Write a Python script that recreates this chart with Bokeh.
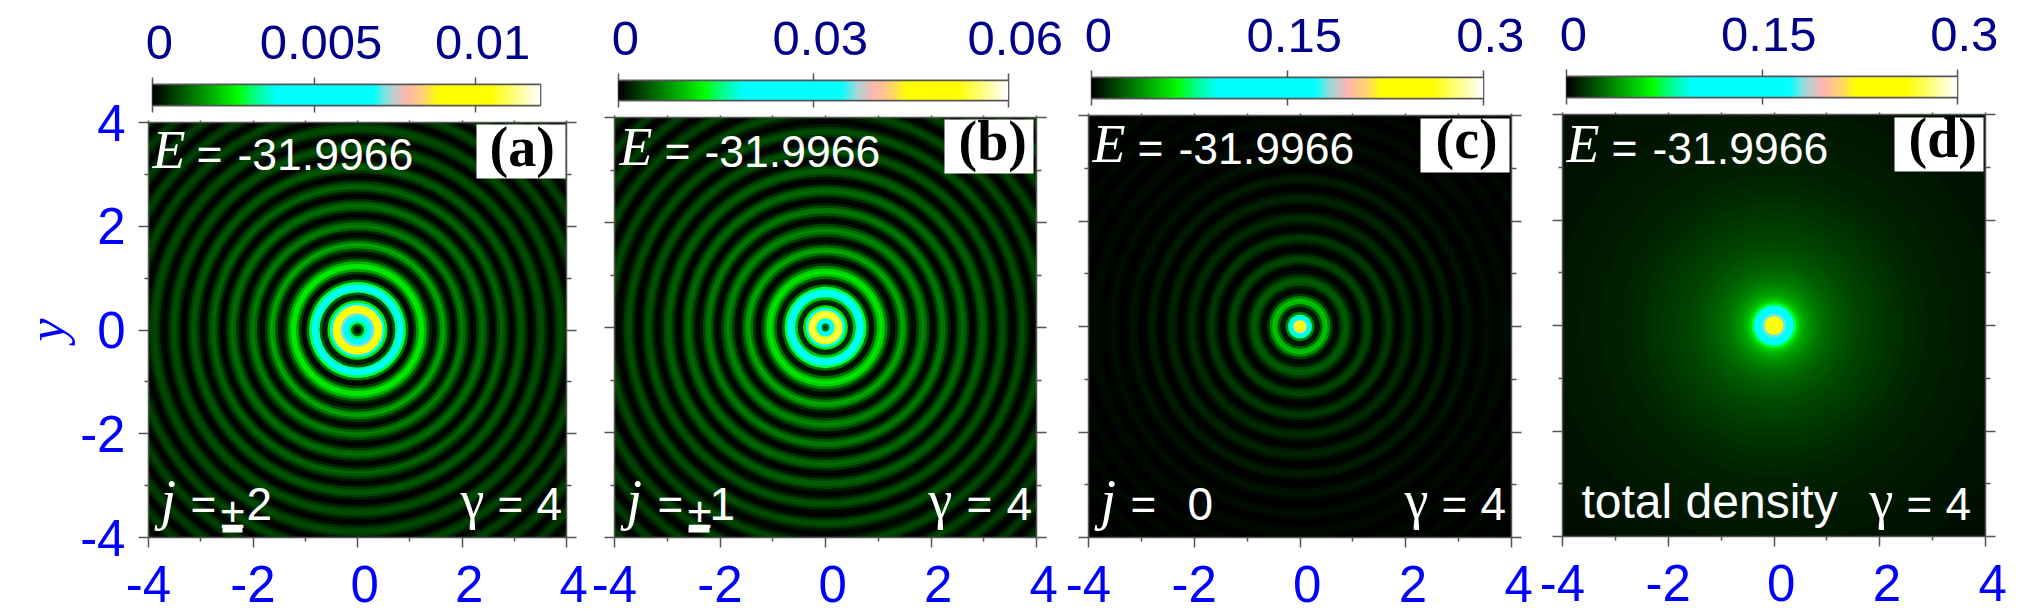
from bokeh.embed import file_html
from bokeh.layouts import column, row
from bokeh.models import (
    BoxAnnotation, ColumnDataSource, FixedTicker, Label, LinearAxis, LinearColorMapper
)
from bokeh.plotting import figure
from bokeh.resources import INLINE
from bokeh.transform import linear_cmap
import numpy as np

# radial density profiles, one sample every ring_step in r,
# written as a fraction of the top of each panel's colour bar
ring_step = 0.05

density_a = [
    0.0, 0.02, 0.1, 0.25, 0.38, 0.46, 0.6, 0.74, 0.82, 0.78, 0.55, 0.2, 0.03, 0.02, 0.08, 0.28, 0.38, 0.36, 0.24, 0.1,
    0.01, 0.01, 0.06, 0.14, 0.2, 0.2, 0.15, 0.08, 0.03, 0.005, 0.02, 0.07, 0.125, 0.147, 0.1, 0.05, 0.012, 0.005, 0.035, 0.085,
    0.112, 0.09, 0.055, 0.02, 0.003, 0.014, 0.05, 0.085, 0.095, 0.075, 0.04, 0.01, 0.003, 0.027, 0.062, 0.086, 0.075, 0.047, 0.017, 0.0,
    0.014, 0.044, 0.072, 0.078, 0.055, 0.024, 0.003, 0.003, 0.027, 0.054, 0.069, 0.066, 0.04, 0.013, 0.0, 0.013, 0.04, 0.06, 0.065, 0.052,
    0.026, 0.007, 0.0, 0.02, 0.046, 0.06, 0.056, 0.033, 0.01, 0.001, 0.017, 0.04, 0.056, 0.053, 0.033, 0.01, 0.001, 0.014, 0.037, 0.053,
    0.052, 0.033, 0.01, 0.001, 0.014, 0.034, 0.05, 0.05, 0.03, 0.01, 0.001, 0.014, 0.034, 0.048,
]
density_b = [
    0.02, 0.1, 0.35, 0.5, 0.8, 0.92, 0.78, 0.45, 0.2, 0.03, 0.04, 0.17, 0.3, 0.38, 0.36, 0.24, 0.1, 0.015, 0.02, 0.09,
    0.17, 0.2, 0.18, 0.11, 0.05, 0.01, 0.007, 0.045, 0.1, 0.147, 0.13, 0.08, 0.03, 0.004, 0.015, 0.055, 0.1, 0.12, 0.095, 0.055,
    0.015, 0.004, 0.024, 0.07, 0.104, 0.1, 0.064, 0.024, 0.002, 0.008, 0.04, 0.078, 0.09, 0.08, 0.045, 0.011, 0.002, 0.019, 0.053, 0.08,
    0.082, 0.06, 0.026, 0.004, 0.004, 0.024, 0.055, 0.073, 0.063, 0.038, 0.01, 0.0, 0.01, 0.04, 0.065, 0.069, 0.05, 0.022, 0.004, 0.004,
    0.021, 0.046, 0.065, 0.058, 0.036, 0.011, 0.001, 0.007, 0.028, 0.053, 0.06, 0.046, 0.021, 0.004, 0.002, 0.017, 0.042, 0.055, 0.05, 0.028,
    0.007, 0.001, 0.01, 0.034, 0.05, 0.047, 0.027, 0.008, 0.001, 0.008, 0.027, 0.044, 0.048, 0.034,
]
density_c = [
    0.82, 0.82, 0.72, 0.48, 0.3, 0.12, 0.02, 0.02, 0.08, 0.16, 0.17, 0.12, 0.05, 0.008, 0.008, 0.03, 0.065, 0.08, 0.075, 0.05,
    0.02, 0.004, 0.002, 0.014, 0.04, 0.06, 0.06, 0.04, 0.014, 0.002, 0.002, 0.014, 0.035, 0.05, 0.05, 0.032, 0.01, 0.001, 0.004, 0.017,
    0.034, 0.04, 0.035, 0.019, 0.005, 0.001, 0.005, 0.02, 0.03, 0.032, 0.022, 0.008, 0.001, 0.003, 0.011, 0.021, 0.024, 0.02, 0.009, 0.002,
    0.001, 0.005, 0.012, 0.017, 0.017, 0.01, 0.004, 0.001, 0.002, 0.006, 0.011, 0.014, 0.011, 0.006, 0.001, 0.001, 0.004, 0.008, 0.011, 0.011,
    0.007, 0.002, 0.001, 0.003, 0.007, 0.01, 0.01, 0.007, 0.002, 0.001, 0.002, 0.006, 0.009, 0.009, 0.006, 0.002, 0.001, 0.002, 0.005, 0.008,
    0.008, 0.005, 0.002, 0.001, 0.002, 0.005, 0.007, 0.007, 0.005, 0.002, 0.001, 0.002, 0.005, 0.007,
]
density_d = [
    0.8, 0.8, 0.8, 0.74, 0.6, 0.42, 0.38, 0.33, 0.24, 0.19, 0.165, 0.15, 0.138, 0.13, 0.122, 0.115, 0.11, 0.105, 0.1, 0.096,
    0.092, 0.088, 0.085, 0.082, 0.08, 0.077, 0.075, 0.072, 0.07, 0.068, 0.066, 0.064, 0.062, 0.06, 0.058, 0.057, 0.055, 0.054, 0.052, 0.051,
    0.05, 0.049, 0.048, 0.046, 0.045, 0.044, 0.043, 0.042, 0.041, 0.04, 0.039, 0.038, 0.037, 0.036, 0.035, 0.034, 0.033, 0.032, 0.031, 0.031,
    0.03, 0.03, 0.029, 0.029, 0.028, 0.028, 0.027, 0.027, 0.026, 0.026, 0.025, 0.025, 0.024, 0.024, 0.023, 0.023, 0.022, 0.022, 0.021, 0.021,
    0.021, 0.02, 0.02, 0.02, 0.019, 0.019, 0.019, 0.018, 0.018, 0.018, 0.018, 0.017, 0.017, 0.017, 0.017, 0.016, 0.016, 0.016, 0.016, 0.016,
    0.015, 0.015, 0.015, 0.015, 0.015, 0.015, 0.015, 0.014, 0.014, 0.014, 0.014, 0.014, 0.014, 0.014,
]

bar_max = [0.012, 0.06, 0.3, 0.3]
bar_ticks = [[0, 0.005, 0.01], [0, 0.03, 0.06], [0, 0.15, 0.3], [0, 0.15, 0.3]]
bar_labels = [["0", "0.005", "0.01"], ["0", "0.03", "0.06"], ["0", "0.15", "0.3"], ["0", "0.15", "0.3"]]
axis_ticks = [-4, -2, 0, 2, 4]
axis_minor = [-3, -1, 1, 3]
panel_names = ["(a)", "(b)", "(c)", "(d)"]

# colour scale anchors taken from the bars
cmap_pos = [0.0, 0.22, 0.26, 0.32, 0.57, 0.61, 0.655, 0.70, 0.74, 0.87, 1.0]
cmap_rgb = [
    (0, 0, 0), (0, 255, 0), (0, 255, 128), (0, 255, 255), (0, 255, 255), (160, 216, 216),
    (255, 182, 176), (255, 210, 112), (255, 255, 0), (255, 255, 0), (255, 255, 255),
]
grid = np.linspace(0, 1, 256)
palette = [
    "#%02x%02x%02x" % tuple(int(round(np.interp(g, cmap_pos, [c[i] for c in cmap_rgb]))) for i in range(3))
    for g in grid
]

SANS = "Liberation Sans"
SERIF = "Liberation Serif"
BLUE = "#0000ff"
NAVY = "#00008b"
TICK = "#555555"
NB = "\u00a0"
BASELINE_SHIFT = 0.39  # Label with alphabetic baseline lands this many em too low

# page pixels: column start/end, heat map frame, colour bar frame
columns = [(0, 590), (590, 1063), (1063, 1536), (1536, 2039)]
frames = [(148, 566, 122, 537), (614, 1036, 117, 537), (1088, 1511, 115, 537), (1562, 1985, 114, 536)]
bars = [(152, 540, 84, 105), (618, 1008, 80, 100), (1091, 1483, 77, 98), (1566, 1957, 76, 97)]
BAR_TOP, BAR_END = 0, 114
MAP_TOP, MAP_END = 90, 614

# text pieces per panel, in page pixels: (left, baseline, text, font, size, style)
texts = [
    [(152, 171, "E", SERIF, 54, "italic"), (196, 171, "=", SANS, 44.5, "normal"), (237, 171, "-31.9966", SANS, 44.5, "normal"),
     (160, 521, "j", SERIF, 56, "italic"), (190, 521, "=", SANS, 44, "normal"), (220, 529, "±", SANS, 44, "normal"),
     (246, 521, "2", SANS, 46, "normal"), (460, 521, "γ", SERIF, 54, "normal"), (497, 521, "=", SANS, 44, "normal"),
     (536, 521, "4", SANS, 46, "normal")],
    [(619, 168, "E", SERIF, 54, "italic"), (664, 168, "=", SANS, 44.5, "normal"), (704, 168, "-31.9966", SANS, 44.5, "normal"),
     (626, 521, "j", SERIF, 56, "italic"), (657, 521, "=", SANS, 44, "normal"), (687, 529, "±", SANS, 44, "normal"),
     (709, 521, "1", SANS, 46, "normal"), (928, 521, "γ", SERIF, 54, "normal"), (966, 521, "=", SANS, 44, "normal"),
     (1006, 521, "4", SANS, 46, "normal")],
    [(1092, 165, "E", SERIF, 54, "italic"), (1137, 165, "=", SANS, 44.5, "normal"), (1178, 165, "-31.9966", SANS, 44.5, "normal"),
     (1100, 521, "j", SERIF, 56, "italic"), (1130, 521, "=", SANS, 44, "normal"), (1187, 521, "0", SANS, 46, "normal"),
     (1404, 521, "γ", SERIF, 54, "normal"), (1441, 521, "=", SANS, 44, "normal"), (1480, 521, "4", SANS, 46, "normal")],
    [(1566, 165, "E", SERIF, 54, "italic"), (1611, 165, "=", SANS, 44.5, "normal"), (1652, 165, "-31.9966", SANS, 44.5, "normal"),
     (1581, 520, "total density", SANS, 48, "normal"), (1869, 521, "γ", SERIF, 54, "normal"), (1906, 521, "=", SANS, 44, "normal"),
     (1945, 521, "4", SANS, 46, "normal")],
]
# white corner box (left, right, top, bottom), letter (left, baseline), bar under the plus sign
boxes = [(476, 565, 124, 178), (944, 1033, 119, 173), (1420, 1509, 118, 172), (1894, 1983, 117, 171)]
box_text = [(489, 168), (958, 162), (1435, 160), (1908, 159)]
plus_bars = [(222, 242, 527, 532), (688, 709, 527, 532), None, None]


def style_axis(axis, ticks, labels, major_out, minor_out, color, size):
    axis.ticker = FixedTicker(ticks=ticks, minor_ticks=axis_minor if len(ticks) == 5 else [])
    axis.major_label_overrides = labels
    axis.major_tick_out = major_out
    axis.major_tick_in = 0
    axis.minor_tick_out = minor_out
    axis.minor_tick_in = 0
    axis.axis_line_color = TICK
    axis.axis_line_width = 1.5
    axis.major_tick_line_color = TICK
    axis.major_tick_line_width = 1.5
    axis.minor_tick_line_color = TICK
    axis.minor_tick_line_width = 1.5
    axis.major_label_text_font = SANS
    axis.major_label_text_font_size = size
    axis.major_label_text_color = color


def colour_bar(i):
    x0, x1 = columns[i]
    left, right, top, bottom = bars[i]
    p = figure(
        width=x1 - x0, height=BAR_END - BAR_TOP, frame_width=right - left, frame_height=bottom - top,
        output_backend="svg", toolbar_location=None, tools="", frame_align=False,
        x_range=(0, bar_max[i]), y_range=(0, 1), x_axis_location="above",
        min_border_left=left - x0, min_border_right=x1 - right,
        min_border_top=top - BAR_TOP, min_border_bottom=BAR_END - bottom,
        background_fill_color="black", border_fill_color=None,
    )
    mapper = LinearColorMapper(palette=palette, low=0, high=1)
    p.image(image=[grid.reshape(1, -1)], x=0, y=0, dw=bar_max[i], dh=1, color_mapper=mapper)
    p.grid.visible = False
    p.yaxis.visible = False
    ticks = bar_ticks[i]
    style_axis(p.above[0], ticks, {t: NB + s for t, s in zip(ticks, bar_labels[i])}, 7, 0, NAVY, "49px")
    p.above[0].major_label_standoff = 9
    low = LinearAxis()
    style_axis(low, ticks, {t: "" for t in ticks}, 7, 0, NAVY, "10px")
    p.add_layout(low, "below")
    p.outline_line_color = "#333333"
    p.outline_line_width = 1.5
    return p


def heat_map(i, density):
    x0, x1 = columns[i]
    left, right, top, bottom = frames[i]
    p = figure(
        width=x1 - x0, height=MAP_END - MAP_TOP, frame_width=right - left, frame_height=bottom - top,
        output_backend="svg", toolbar_location=None, tools="", frame_align=False,
        x_range=(-4, 4), y_range=(-4, 4), margin=(MAP_TOP - BAR_END, 0, 0, 0),
        min_border_left=left - x0, min_border_right=x1 - right,
        min_border_top=top - MAP_TOP, min_border_bottom=MAP_END - bottom,
        background_fill_color="black", border_fill_color=None,
    )
    # filled discs from the outside in, each one covering the inner part of the last
    radii = [(k + 0.5) * ring_step for k in range(len(density))]
    source = ColumnDataSource(dict(
        x=[0] * len(density), y=[0] * len(density),
        d=[2 * r for r in radii][::-1], f=density[::-1],
    ))
    p.ellipse(x="x", y="y", width="d", height="d", source=source,
              fill_color=linear_cmap("f", palette, 0, 1), line_color=None)
    p.grid.visible = False

    xlabels = {t: (str(t) if t < 0 else NB + str(t)) for t in axis_ticks}
    style_axis(p.below[0], axis_ticks, xlabels, 10, 4, BLUE, "51px")
    p.below[0].major_label_standoff = 8
    ylabels = {t: str(t) for t in axis_ticks} if i == 0 else {t: "" for t in axis_ticks}
    style_axis(p.left[0], axis_ticks, ylabels, 10, 4, BLUE, "51px")
    p.left[0].major_label_standoff = 13 if i == 0 else 0
    if i == 0:
        p.left[0].axis_label = "y"
        p.left[0].axis_label_text_font = SERIF
        p.left[0].axis_label_text_font_style = "italic"
        p.left[0].axis_label_text_font_size = "52px"
        p.left[0].axis_label_text_color = BLUE
        p.left[0].axis_label_standoff = 2
    for side, out in (("above", 2), ("right", 10)):
        extra = LinearAxis()
        style_axis(extra, axis_ticks, {t: "" for t in axis_ticks}, out, 2 if side == "above" else 5, BLUE, "10px")
        extra.major_label_standoff = 0
        p.add_layout(extra, side)

    def dx(px):
        return -4 + 8 * (px - left) / (right - left)

    def dy(py):
        return 4 - 8 * (py - top) / (bottom - top)

    bl, br, bt, bb = boxes[i]
    p.add_layout(BoxAnnotation(left=dx(bl), right=dx(br), top=dy(bt), bottom=dy(bb),
                               fill_color="white", fill_alpha=1, line_color=None))
    tx, ty = box_text[i]
    p.add_layout(Label(x=dx(tx), y=dy(ty - BASELINE_SHIFT * 56), text=panel_names[i], text_color="black", text_font=SERIF,
                       text_font_size="56px", text_font_style="bold", text_baseline="alphabetic"))
    for px, py, s, font, size, style in texts[i]:
        p.add_layout(Label(x=dx(px), y=dy(py - BASELINE_SHIFT * size), text=s, text_color="white", text_font=font,
                           text_font_size=f"{size}px", text_font_style=style, text_baseline="alphabetic"))
    if plus_bars[i]:
        bl, br, bt, bb = plus_bars[i]
        p.add_layout(BoxAnnotation(left=dx(bl), right=dx(br), top=dy(bt), bottom=dy(bb),
                                   fill_color="white", fill_alpha=1, line_color=None))
    return p


densities = [density_a, density_b, density_c, density_d]
p = row(*[column(colour_bar(i), heat_map(i, densities[i]), spacing=0) for i in range(4)], spacing=0)

open("out.html", "w").write(file_html(p, INLINE))
